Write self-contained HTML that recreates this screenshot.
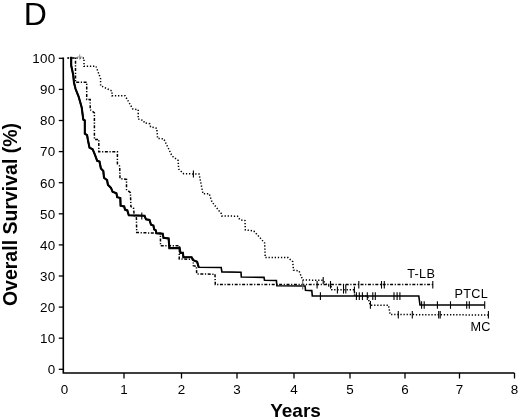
<!DOCTYPE html>
<html><head><meta charset="utf-8"><title>D</title>
<style>
html,body{margin:0;padding:0;background:#fff;}
body{width:520px;height:419px;overflow:hidden;}
svg{display:block;font-family:"Liberation Sans",sans-serif;fill:#000;}
</style></head><body>
<svg width="520" height="419" viewBox="0 0 520 419">
<rect width="520" height="419" fill="#fff"/>
<text x="23.8" y="24.9" font-size="32">D</text>
<g font-size="13.4" letter-spacing="0.3"><text x="55.6" y="63.1" text-anchor="end">100</text><text x="55.6" y="94.2" text-anchor="end">90</text><text x="55.6" y="125.3" text-anchor="end">80</text><text x="55.6" y="156.4" text-anchor="end">70</text><text x="55.6" y="187.5" text-anchor="end">60</text><text x="55.6" y="218.6" text-anchor="end">50</text><text x="55.6" y="249.7" text-anchor="end">40</text><text x="55.6" y="280.8" text-anchor="end">30</text><text x="55.6" y="311.9" text-anchor="end">20</text><text x="55.6" y="343.0" text-anchor="end">10</text><text x="55.6" y="374.1" text-anchor="end">0</text><text x="64.6" y="394.3" text-anchor="middle">0</text><text x="124" y="394.3" text-anchor="middle">1</text><text x="181.5" y="394.3" text-anchor="middle">2</text><text x="237" y="394.3" text-anchor="middle">3</text><text x="294" y="394.3" text-anchor="middle">4</text><text x="350" y="394.3" text-anchor="middle">5</text><text x="405" y="394.3" text-anchor="middle">6</text><text x="459.5" y="394.3" text-anchor="middle">7</text><text x="514.5" y="394.3" text-anchor="middle">8</text></g>
<text transform="translate(16.5,214.5) rotate(-90)" text-anchor="middle" font-size="19.5" font-weight="bold">Overall Survival (%)</text>
<text x="295.5" y="417.2" text-anchor="middle" font-size="19" font-weight="bold">Years</text>
<polyline points="63.3,57.6 63.3,373 514.5,373" fill="none" stroke="#000" stroke-width="1.6" stroke-linejoin="miter"/>
<line x1="58.8" y1="58.3" x2="63.3" y2="58.3" stroke="#000" stroke-width="1.3"/><line x1="58.8" y1="89.4" x2="63.3" y2="89.4" stroke="#000" stroke-width="1.3"/><line x1="58.8" y1="120.5" x2="63.3" y2="120.5" stroke="#000" stroke-width="1.3"/><line x1="58.8" y1="151.6" x2="63.3" y2="151.6" stroke="#000" stroke-width="1.3"/><line x1="58.8" y1="182.7" x2="63.3" y2="182.7" stroke="#000" stroke-width="1.3"/><line x1="58.8" y1="213.8" x2="63.3" y2="213.8" stroke="#000" stroke-width="1.3"/><line x1="58.8" y1="244.9" x2="63.3" y2="244.9" stroke="#000" stroke-width="1.3"/><line x1="58.8" y1="276.0" x2="63.3" y2="276.0" stroke="#000" stroke-width="1.3"/><line x1="58.8" y1="307.1" x2="63.3" y2="307.1" stroke="#000" stroke-width="1.3"/><line x1="58.8" y1="338.2" x2="63.3" y2="338.2" stroke="#000" stroke-width="1.3"/><line x1="58.8" y1="369.3" x2="63.3" y2="369.3" stroke="#000" stroke-width="1.3"/><line x1="124" y1="373" x2="124" y2="378.5" stroke="#000" stroke-width="1.3"/><line x1="181.5" y1="373" x2="181.5" y2="378.5" stroke="#000" stroke-width="1.3"/><line x1="237" y1="373" x2="237" y2="378.5" stroke="#000" stroke-width="1.3"/><line x1="294" y1="373" x2="294" y2="378.5" stroke="#000" stroke-width="1.3"/><line x1="350" y1="373" x2="350" y2="378.5" stroke="#000" stroke-width="1.3"/><line x1="405" y1="373" x2="405" y2="378.5" stroke="#000" stroke-width="1.3"/><line x1="459.5" y1="373" x2="459.5" y2="378.5" stroke="#000" stroke-width="1.3"/><line x1="514.5" y1="373" x2="514.5" y2="378.5" stroke="#000" stroke-width="1.3"/>
<polyline points="67.2,58 84,58 84,66.3 96,66.3 100.6,78.7 100.6,85.7 112,91 112,95.7 125,95.7 132.8,109 138.2,109.7 138.2,119 143.6,120.6 144.4,122.9 149.8,123.7 150.6,126.8 156.8,128.3 157.6,138.4 163.8,138.9 172,155.9 178.2,160.5 178.6,169 183.6,173.7 199.1,174.1 203,193.8 209.2,193.8 212,202 221.3,213.6 221.7,215.9 237.6,216.2 239.9,219.8 245,220.6 245.3,229.9 253.8,231 264.7,243 265.2,257.5 288,257.6 292.7,261.6 293.5,270.2 299,270.9 302.7,280 322.9,280.3 327.7,285.8 331.1,286 331.8,289.8 354.4,289.8 354.6,296 367.4,296 370.3,305.2 388.5,305.2 390.1,314.5 488.4,315" fill="none" stroke="#000" stroke-width="1.5" stroke-dasharray="1.3 1.8"/>
<polyline points="68,58 75.5,58 75.5,82.2 86.7,82.2 86.7,99.6 90.2,99.6 90.2,109.7 94.4,112.8 94.4,139.4 98.8,139.4 98.8,151.8 117.4,151.8 117.4,163.9 119.7,166.2 120,178.6 126.5,179.4 126.5,189.5 130.4,192.6 130.9,206.5 133.5,208 134.3,215.8 136.4,217.8 136.7,232.5 160.4,233.3 160.5,245.7 179.5,245.7 179.2,258.9 193.3,259.5 193.3,265.7 196.4,266.4 196.7,273.9 215,274.2 215.3,284.5 432.8,284.6" fill="none" stroke="#000" stroke-width="1.5" stroke-dasharray="3 1.6 1.2 1.6" stroke-dashoffset="4.6"/>
<polyline points="70.2,57.8 71.2,57.8 71.2,65.5 73.2,74.8 74,82.6 75.5,88.8 78.6,96.5 81.7,107.4 83.3,119.7 84.8,120.5 84.8,133.7 87.1,135.2 87.9,140 89.5,147.6 92.6,149.2 94.9,154.6 97.2,160.8 99.5,161.6 100.9,168.5 103.3,170.9 104,177.8 107.1,180.2 107.9,184.8 111,187.9 112.6,191.8 116.4,193.3 117.2,197.2 120.3,198 120.6,205.7 124.2,206.5 125,209.6 127.3,210.4 128.8,215.2 144.5,215.7 146,219.3 149.5,220 151,224.7 153.4,225.5 154.2,229.4 155.7,230.2 156.5,233.3 162.7,233.7 163.5,237.9 168.6,238.4 169.4,248.1 179.6,248.1 180.5,252.9 182.9,252.9 183.4,257.2 191.6,257.3 193.3,260.2 197.1,261.8 198.7,267.2 221.2,267.5 221.9,271.9 241,272.3 241.3,277 264,277.4 264.5,280.2 276.4,280.5 276.9,285.7 305.1,286 305.5,290.3 311.8,290.6 312.3,295.9 418.8,296 420,305 484.7,305" fill="none" stroke="#000" stroke-width="1.6" stroke-linejoin="miter"/>
<polyline points="70.2,57.8 71.2,57.8 71.2,65.5 73.2,74.8 74,82.6 75.5,88.8 78.6,96.5 81.7,107.4 83.3,119.7 84.8,120.5 84.8,133.7 87.1,135.2 87.9,140 89.5,147.6 92.6,149.2 94.9,154.6 97.2,160.8 99.5,161.6 100.9,168.5 103.3,170.9 104,177.8 107.1,180.2 107.9,184.8 111,187.9 112.6,191.8 116.4,193.3 117.2,197.2 120.3,198 120.6,205.7 124.2,206.5 125,209.6 127.3,210.4 128.8,215.2 144.5,215.7 146,219.3 149.5,220 151,224.7 153.4,225.5 154.2,229.4 155.7,230.2 156.5,233.3 162.7,233.7 163.5,237.9 168.6,238.4 169.4,248.1 179.6,248.1 180.5,252.9 182.9,252.9 183.4,257.2 191.6,257.3 193.3,260.2 197.1,261.8 198.7,267.2" fill="none" stroke="#000" stroke-width="2.1" stroke-linejoin="miter"/>
<g><line x1="141.8" y1="212.5" x2="141.8" y2="219.5" stroke="#000" stroke-width="1.1"/><line x1="320.4" y1="292.3" x2="320.4" y2="300" stroke="#000" stroke-width="1.1"/><line x1="356.4" y1="292.3" x2="356.4" y2="300" stroke="#000" stroke-width="1.1"/><line x1="359.3" y1="292.3" x2="359.3" y2="300" stroke="#000" stroke-width="1.1"/><line x1="362.4" y1="292.3" x2="362.4" y2="300" stroke="#000" stroke-width="1.1"/><line x1="367.3" y1="292.3" x2="367.3" y2="300" stroke="#000" stroke-width="1.1"/><line x1="372.8" y1="292.3" x2="372.8" y2="300" stroke="#000" stroke-width="1.1"/><line x1="375.3" y1="292.3" x2="375.3" y2="300" stroke="#000" stroke-width="1.1"/><line x1="394" y1="292.3" x2="394" y2="300" stroke="#000" stroke-width="1.1"/><line x1="397.1" y1="292.3" x2="397.1" y2="300" stroke="#000" stroke-width="1.1"/><line x1="399.9" y1="292.3" x2="399.9" y2="300" stroke="#000" stroke-width="1.1"/><line x1="421.6" y1="301.3" x2="421.6" y2="308.8" stroke="#000" stroke-width="1.1"/><line x1="424.2" y1="301.3" x2="424.2" y2="308.8" stroke="#000" stroke-width="1.1"/><line x1="437.4" y1="301.3" x2="437.4" y2="308.8" stroke="#000" stroke-width="1.1"/><line x1="450.5" y1="301.3" x2="450.5" y2="308.8" stroke="#000" stroke-width="1.1"/><line x1="466.7" y1="301.3" x2="466.7" y2="308.8" stroke="#000" stroke-width="1.1"/><line x1="469.3" y1="301.3" x2="469.3" y2="308.8" stroke="#000" stroke-width="1.1"/><line x1="484.7" y1="301.3" x2="484.7" y2="308.8" stroke="#000" stroke-width="1.1"/><line x1="302.7" y1="280.5" x2="302.7" y2="289.5" stroke="#666" stroke-width="1.1"/><line x1="317.1" y1="281" x2="317.1" y2="288.6" stroke="#000" stroke-width="1.1"/><line x1="330.5" y1="281" x2="330.5" y2="288.6" stroke="#000" stroke-width="1.1"/><line x1="358.8" y1="281" x2="358.8" y2="288.6" stroke="#000" stroke-width="1.1"/><line x1="381.5" y1="281" x2="381.5" y2="288.6" stroke="#000" stroke-width="1.1"/><line x1="384.3" y1="281" x2="384.3" y2="288.6" stroke="#000" stroke-width="1.1"/><line x1="432.8" y1="281" x2="432.8" y2="288.6" stroke="#000" stroke-width="1.1"/><line x1="193.4" y1="170.6" x2="193.4" y2="177.6" stroke="#000" stroke-width="1.1"/><line x1="323.2" y1="277" x2="323.2" y2="284" stroke="#000" stroke-width="1.1"/><line x1="337.4" y1="286.4" x2="337.4" y2="293.6" stroke="#000" stroke-width="1.1"/><line x1="354.4" y1="286.4" x2="354.4" y2="293.6" stroke="#000" stroke-width="1.1"/><line x1="343.5" y1="284.6" x2="343.5" y2="293.6" stroke="#000" stroke-width="1.1"/><line x1="345.8" y1="284.6" x2="345.8" y2="293.6" stroke="#000" stroke-width="1.1"/><line x1="370.4" y1="301" x2="370.4" y2="308.8" stroke="#000" stroke-width="1.1"/><line x1="398.3" y1="311" x2="398.3" y2="318.6" stroke="#000" stroke-width="1.1"/><line x1="412.3" y1="311" x2="412.3" y2="318.6" stroke="#000" stroke-width="1.1"/><line x1="438.7" y1="311" x2="438.7" y2="318.6" stroke="#000" stroke-width="1.1"/><line x1="440.2" y1="311" x2="440.2" y2="318.6" stroke="#000" stroke-width="1.1"/><line x1="488.4" y1="311" x2="488.4" y2="318.6" stroke="#000" stroke-width="1.1"/></g>
<path d="M77,57h5.4M79.7,54.3v5.4" stroke="#999" stroke-width="1" fill="none"/>
<g font-size="12.7" letter-spacing="0.25">
<text x="407.3" y="277.9">T-LB</text>
<text x="454.6" y="297.6">PTCL</text>
<text x="470.4" y="330.6">MC</text>
</g>
</svg>
</body></html>
